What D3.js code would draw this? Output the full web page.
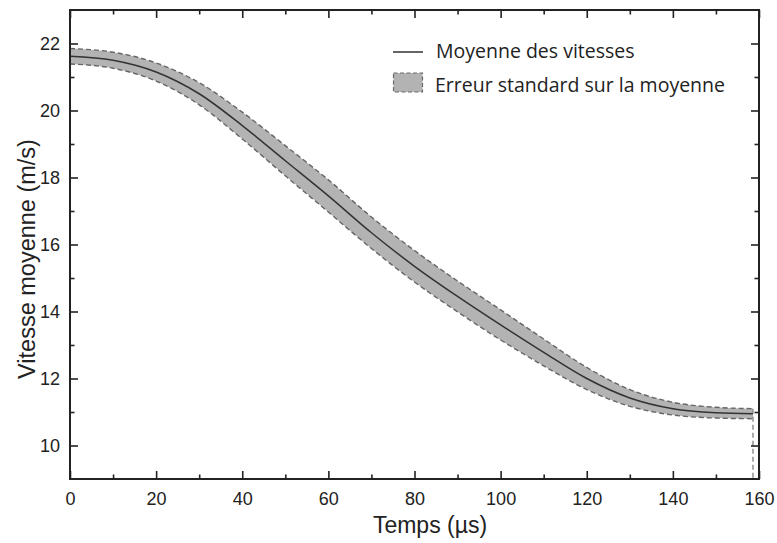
<!DOCTYPE html>
<html><head><meta charset="utf-8">
<script src="https://cdn.jsdelivr.net/npm/d3@7"></script>
<style>
html,body{margin:0;padding:0;background:#fff;}
svg{display:block;}
</style></head>
<body>
<svg id="chart" width="777" height="543"></svg>
<script>
// ---- data ----
const timeValues  = [0, 10, 20, 30, 40, 50, 60, 70, 80, 90, 100, 110, 120, 130, 140, 150, 158.6];
const meanValues  = [21.62, 21.5, 21.15, 20.5, 19.55, 18.5, 17.45, 16.35, 15.35, 14.45, 13.6, 12.78, 12.0, 11.42, 11.1, 10.98, 10.95];
const upperValues = [21.85, 21.74, 21.42, 20.83, 19.95, 18.95, 17.93, 16.82, 15.82, 14.91, 14.05, 13.18, 12.33, 11.67, 11.29, 11.14, 11.1];
const lowerValues = [21.39, 21.26, 20.88, 20.17, 19.15, 18.05, 16.97, 15.88, 14.88, 13.99, 13.15, 12.38, 11.67, 11.17, 10.91, 10.82, 10.8];
const xTickValues = [0, 20, 40, 60, 80, 100, 120, 140, 160];
const xMinorTicks = [10, 30, 50, 70, 90, 110, 130, 150];
const yTickValues = [10, 12, 14, 16, 18, 20, 22];
const yMinorTicks = [11, 13, 15, 17, 19, 21];
const legendLabels = ["Moyenne des vitesses", "Erreur standard sur la moyenne"];
const xTitle = "Temps (µs)";
const yTitle = "Vitesse moyenne (m/s)";

// ---- layout ----
const svg = d3.select("#chart");
const L = 70, R = 759, T = 10, B = 479;
const x = d3.scaleLinear().domain([0, 160]).range([L, R]);
const y = d3.scaleLinear().domain([9, 23]).range([B, T]);

const pts = timeValues.map((t, i) => ({t, m: meanValues[i], u: upperValues[i], l: lowerValues[i]}));
const curve = d3.curveMonotoneX;

// band
svg.append("path").datum(pts)
  .attr("d", d3.area().x(d => x(d.t)).y0(d => y(d.l)).y1(d => y(d.u)).curve(curve))
  .attr("fill", "#b3b3b3").attr("stroke", "none");
["u", "l"].forEach(k => {
  svg.append("path").datum(pts)
    .attr("d", d3.line().x(d => x(d.t)).y(d => y(d[k])).curve(curve))
    .attr("fill", "none").attr("stroke", "#666").attr("stroke-width", 1.4)
    .attr("stroke-dasharray", "5,3");
});
// closing vertical dashed edge at the end of the data
const last = pts[pts.length - 1];
svg.append("line")
  .attr("x1", x(last.t)).attr("x2", x(last.t))
  .attr("y1", y(last.u)).attr("y2", y(9))
  .attr("stroke", "#8a8a8a").attr("stroke-width", 1.4).attr("stroke-dasharray", "5,3");

// mean line
svg.append("path").datum(pts)
  .attr("d", d3.line().x(d => x(d.t)).y(d => y(d.m)).curve(curve))
  .attr("fill", "none").attr("stroke", "#333").attr("stroke-width", 1.5);

// ---- axes ----
const axisColor = "#222";
const font = "Liberation Sans, Arial, sans-serif";
function styleAxis(g) {
  g.select(".domain").remove();
  g.selectAll(".tick line").attr("stroke", axisColor).attr("stroke-width", 1.6);
  g.selectAll(".tick text").attr("fill", "#222").attr("font-family", font).attr("font-size", 18);
}
// bottom
svg.append("g").attr("transform", `translate(0,${B})`)
  .call(d3.axisBottom(x).tickValues(xTickValues).tickSize(-8).tickPadding(13).tickFormat(d3.format("d")))
  .call(styleAxis);
svg.append("g").attr("transform", `translate(0,${B})`)
  .call(d3.axisBottom(x).tickValues(xMinorTicks).tickSize(-4.5).tickFormat(""))
  .call(styleAxis);
// top
svg.append("g").attr("transform", `translate(0,${T})`)
  .call(d3.axisTop(x).tickValues(xTickValues).tickSize(-8).tickFormat(""))
  .call(styleAxis);
svg.append("g").attr("transform", `translate(0,${T})`)
  .call(d3.axisTop(x).tickValues(xMinorTicks).tickSize(-4.5).tickFormat(""))
  .call(styleAxis);
// left
svg.append("g").attr("transform", `translate(${L},0)`)
  .call(d3.axisLeft(y).tickValues(yTickValues).tickSize(-8).tickPadding(10).tickFormat(d3.format("d")))
  .call(styleAxis);
svg.append("g").attr("transform", `translate(${L},0)`)
  .call(d3.axisLeft(y).tickValues(yMinorTicks).tickSize(-4.5).tickFormat(""))
  .call(styleAxis);
// right
svg.append("g").attr("transform", `translate(${R},0)`)
  .call(d3.axisRight(y).tickValues(yTickValues).tickSize(-8).tickFormat(""))
  .call(styleAxis);
svg.append("g").attr("transform", `translate(${R},0)`)
  .call(d3.axisRight(y).tickValues(yMinorTicks).tickSize(-4.5).tickFormat(""))
  .call(styleAxis);

// frame
svg.append("rect").attr("x", L).attr("y", T).attr("width", R - L).attr("height", B - T)
  .attr("fill", "none").attr("stroke", axisColor).attr("stroke-width", 2);

// titles
svg.append("text").attr("x", 430).attr("y", 533).attr("text-anchor", "middle")
  .attr("font-family", font).attr("font-size", 23).attr("fill", "#222").text(xTitle);
svg.append("text").attr("transform", "translate(35,259) rotate(-90)").attr("text-anchor", "middle")
  .attr("font-family", font).attr("font-size", 23.5).attr("fill", "#222").text(yTitle);

// ---- legend ----
const lfont = "Open Sans, Noto Sans, sans-serif";
svg.append("line").attr("x1", 393).attr("x2", 423).attr("y1", 52).attr("y2", 52)
  .attr("stroke", "#333").attr("stroke-width", 1.5);
svg.append("text").attr("x", 436).attr("y", 58).attr("font-family", lfont).attr("font-size", 19.5)
  .attr("fill", "#222").text(legendLabels[0]);
svg.append("rect").attr("x", 393.5).attr("y", 73).attr("width", 29).attr("height", 19)
  .attr("fill", "#b3b3b3").attr("stroke", "#6a6a6a").attr("stroke-width", 1.2).attr("stroke-dasharray", "4,2.5");
svg.append("text").attr("x", 435).attr("y", 92).attr("font-family", lfont).attr("font-size", 19.5)
  .attr("fill", "#222").text(legendLabels[1]);
</script>
</body></html>
